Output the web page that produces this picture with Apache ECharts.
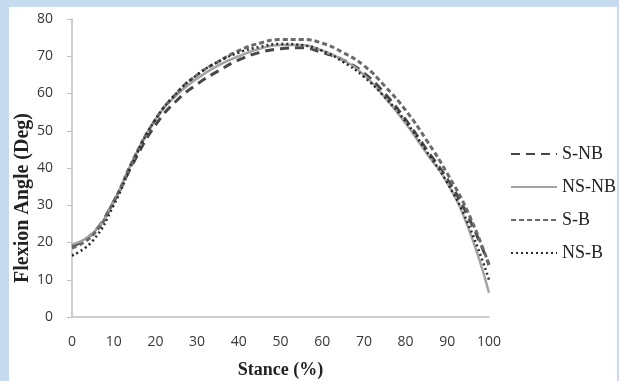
<!DOCTYPE html>
<html>
<head>
<meta charset="utf-8">
<script src="https://cdn.jsdelivr.net/npm/echarts@6/dist/echarts.min.js"></script>
<style>
  html, body { margin: 0; padding: 0; background: #c6dbf0; }
  .panel { position: absolute; left: 9px; top: 7px; width: 608px; height: 374px; background: #fff; }
  #chart { position: absolute; left: 0; top: 0; width: 619px; height: 381px; }
</style>
</head>
<body>
<div class="panel"></div>
<div id="chart"></div>
<script>
// stance (%) sample points
const stance = [0, 5, 10, 15, 20, 25, 30, 35, 40, 45, 50, 55, 60, 65, 70, 75, 80, 85, 90, 95, 100]

// knee flexion angle (deg)
const sNB = [19, 22.5, 31, 42, 51.5, 58, 62.5, 66, 69, 71, 72, 72.3, 71, 69, 65.5, 60, 53, 45, 37, 27, 14]
const nsNB = [19.5, 22.5, 31, 43, 53, 59.5, 64, 67.5, 70, 72, 73, 73, 71.5, 69, 65, 59, 52, 44, 36, 24, 6.5]
const sB = [18.5, 22, 31, 43, 53, 60, 65, 68.5, 71.5, 73.5, 74.5, 74.5, 73.5, 71, 67.5, 62, 55.5, 47.5, 38.5, 28, 14]
const nsB = [16.5, 20.5, 30, 42.5, 53, 60, 65, 68.5, 71, 72.5, 73.3, 73, 71.5, 68.5, 64.5, 59, 52.5, 44.5, 36, 25, 10]

const seriesNames = ['S-NB', 'NS-NB', 'S-B', 'NS-B']

const myChart = echarts.init(document.getElementById('chart'))

const pairs = (vals) => stance.map((s, i) => [s, vals[i]])

const lineSeries = (name, vals, color, width, type) => ({
  name: name,
  type: 'line',
  data: pairs(vals),
  smooth: true,
  symbol: 'none',
  lineStyle: { color: color, width: width, type: type },
  itemStyle: { color: color },
})

const option = {
  backgroundColor: 'transparent',
  animation: false,
  grid: { left: 72, right: 130, top: 19, bottom: 64, outerBoundsMode: 'none' },
  legend: {
    orient: 'vertical',
    left: 505,
    top: 140,
    itemWidth: 46,
    itemHeight: 14,
    itemGap: 15,
    data: seriesNames,
    // 只显示线型，不显示圆点
    itemStyle: { opacity: 0 },
    textStyle: { fontFamily: 'Liberation Serif', fontSize: 18, color: '#222' },
  },
  xAxis: {
    type: 'value',
    min: 0,
    max: 100,
    interval: 10,
    name: 'Stance (%)',
    nameLocation: 'middle',
    nameGap: 44,
    nameTextStyle: { fontFamily: 'Liberation Serif', fontWeight: 'bold', fontSize: 18, color: '#222' },
    axisLine: { lineStyle: { color: '#c0c0c0', width: 1.5 } },
    axisTick: { show: false },
    axisLabel: { margin: 18, fontFamily: 'Open Sans', fontSize: 14, color: '#383838' },
    splitLine: { show: false },
  },
  yAxis: {
    type: 'value',
    min: 0,
    max: 80,
    interval: 10,
    axisLine: { show: true, lineStyle: { color: '#c0c0c0', width: 1.5 } },
    axisTick: { show: true, length: 5, lineStyle: { color: '#c0c0c0' } },
    axisLabel: { margin: 19, fontFamily: 'Open Sans', fontSize: 14, color: '#383838' },
    splitLine: { show: false },
  },
  graphic: [{
    type: 'text',
    x: 23,
    y: 198,
    rotation: Math.PI / 2,
    style: {
      text: 'Flexion Angle (Deg)',
      fontFamily: 'Liberation Serif',
      fontWeight: 'bold',
      fontSize: 20,
      fill: '#222',
      align: 'center',
      verticalAlign: 'middle',
    },
  }],
  series: [
    lineSeries('S-NB', sNB, '#474747', 3, [9, 6]),
    lineSeries('NS-NB', nsNB, '#a3a3a3', 2.5, 'solid'),
    lineSeries('S-B', sB, '#6a6a6a', 3, [5, 3]),
    lineSeries('NS-B', nsB, '#2a2a2a', 2.5, [2, 3]),
  ],
}

myChart.setOption(option)
</script>
</body>
</html>
